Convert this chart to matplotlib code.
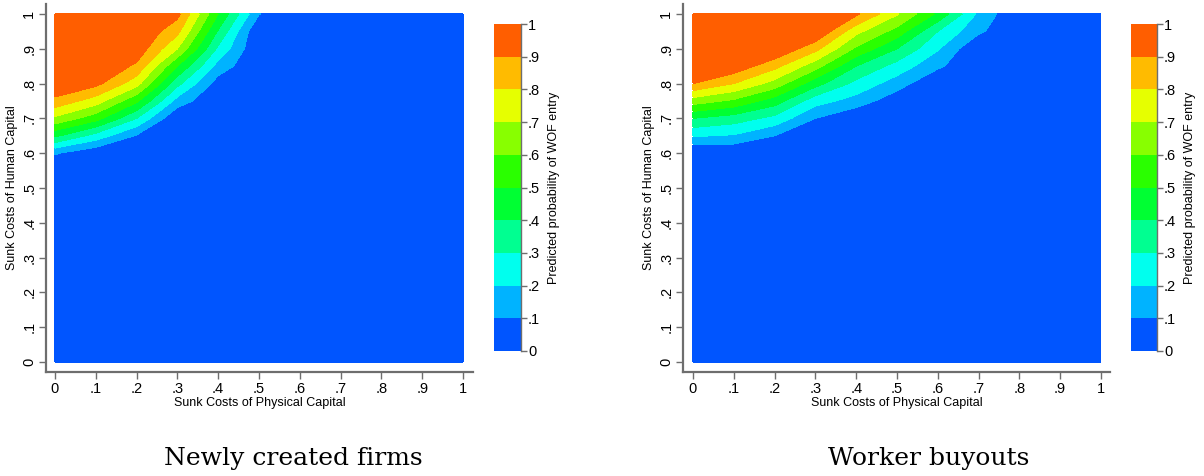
import numpy as np
import matplotlib
matplotlib.use("Agg")
import matplotlib.pyplot as plt

plt.rcParams["font.family"] = ["Liberation Sans", "DejaVu Sans"]

# grid of the two predicted-probability surfaces
x_vals = [0, 0.1, 0.2, 0.3, 0.4, 0.5, 0.6, 0.7, 0.8, 0.9, 1.0]
y_vals = [0, 0.55, 0.6, 0.65, 0.7, 0.75, 0.8, 0.85, 0.9, 0.95, 1.0]

# Newly created firms, rows follow y_vals, columns follow x_vals
z_new = [
    [0, 0, 0, 0, 0, 0, 0, 0, 0, 0, 0],
    [0, 0, 0, 0, 0, 0, 0, 0, 0, 0, 0],
    [0.11, 0.02, 0, 0, 0, 0, 0, 0, 0, 0, 0],
    [0.42, 0.26, 0.09, 0, 0, 0, 0, 0, 0, 0, 0],
    [0.68, 0.54, 0.30, 0, 0, 0, 0, 0, 0, 0, 0],
    [0.87, 0.75, 0.52, 0.16, 0, 0, 0, 0, 0, 0, 0],
    [1.0, 0.93, 0.74, 0.33, 0.05, 0, 0, 0, 0, 0, 0],
    [1.0, 1.0, 0.88, 0.50, 0.16, 0, 0, 0, 0, 0, 0],
    [1.0, 1.0, 0.97, 0.70, 0.28, 0, 0, 0, 0, 0, 0],
    [1.0, 1.0, 1.0, 0.83, 0.39, 0, 0, 0, 0, 0, 0],
    [1.0, 1.0, 1.0, 0.93, 0.50, 0.105, 0, 0, 0, 0, 0],
]

# Worker buyouts
z_wbo = [
    [0, 0, 0, 0, 0, 0, 0, 0, 0, 0, 0],
    [0, 0, 0, 0, 0, 0, 0, 0, 0, 0, 0],
    [0, 0, 0, 0, 0, 0, 0, 0, 0, 0, 0],
    [0.21, 0.19, 0.10, 0, 0, 0, 0, 0, 0, 0, 0],
    [0.40, 0.35, 0.27, 0.10, 0, 0, 0, 0, 0, 0, 0],
    [0.65, 0.58, 0.45, 0.24, 0.16, 0.03, 0, 0, 0, 0, 0],
    [0.90, 0.80, 0.66, 0.44, 0.27, 0.15, 0, 0, 0, 0, 0],
    [1.0, 0.97, 0.83, 0.64, 0.40, 0.26, 0.12, 0, 0, 0, 0],
    [1.0, 1.0, 1.0, 0.83, 0.58, 0.40, 0.21, 0, 0, 0, 0],
    [1.0, 1.0, 1.0, 1.0, 0.73, 0.56, 0.30, 0.12, 0, 0, 0],
    [1.0, 1.0, 1.0, 1.0, 0.92, 0.71, 0.48, 0.18, 0, 0, 0],
]

levels = [0, 0.1, 0.2, 0.3, 0.4, 0.5, 0.6, 0.7, 0.8, 0.9, 1.0]
level_labels = ["0", ".1", ".2", ".3", ".4", ".5", ".6", ".7", ".8", ".9", "1"]
band_colors = ["#0055FF", "#00B3FF", "#00FFEE", "#00FF91", "#00FF33",
               "#2AFF00", "#88FF00", "#E6FF00", "#FFBB00", "#FF5E00"]

W, H = 1204, 476
fig = plt.figure(figsize=(W / 100, H / 100), dpi=100)
fig.patch.set_facecolor("white")


def px_axes(l, t, r, b):
    return fig.add_axes([l / W, 1 - b / H, (r - l) / W, (b - t) / H])


panels = [
    (z_new, (46, 4, 473, 372), (494, 24, 521, 351), (-0.022, 1.0245), "Newly created firms", 293),
    (z_wbo, (683, 4, 1110, 372), (1131, 24, 1157, 351), (-0.0245, 1.0221), "Worker buyouts", 929),
]

spine_col = "#6e6e6e"
for z, box, cbox, xlim, title, tx in panels:
    ax = px_axes(*box)
    cs = ax.contourf(x_vals, y_vals, np.array(z), levels=levels, colors=band_colors)
    ax.set_xlim(*xlim)
    ax.set_ylim(-0.0287, 1.0287)
    ax.set_xticks(levels)
    ax.set_xticklabels(level_labels)
    ax.set_yticks(levels)
    ax.set_yticklabels(level_labels)
    for s in ["top", "right"]:
        ax.spines[s].set_visible(False)
    for s in ["left", "bottom"]:
        ax.spines[s].set_color(spine_col)
        ax.spines[s].set_linewidth(1.6)
    ax.tick_params(axis="both", length=5, width=1.0, color=spine_col,
                   labelsize=10.5, pad=2)
    ax.tick_params(axis="y", labelrotation=90)
    for lab in ax.get_yticklabels():
        lab.set_va("center")
    ax.set_xlabel("Sunk Costs of Physical Capital", fontsize=9, labelpad=1)
    ax.set_ylabel("Sunk Costs of Human Capital", fontsize=9, labelpad=3)

    cax = px_axes(*cbox)
    cb = fig.colorbar(cs, cax=cax)
    cb.outline.set_visible(False)
    cax.spines["right"].set_visible(True)
    cax.spines["right"].set_color(spine_col)
    cax.spines["right"].set_linewidth(1.0)
    cb.set_ticks(levels)
    cb.set_ticklabels(level_labels)
    cax.tick_params(length=4, width=1.0, color=spine_col, labelsize=10.5, pad=1)
    cb.set_label("Predicted probability of WOF entry", fontsize=9, labelpad=6)

    fig.text(tx / W, 1 - 458 / H, title, family="DejaVu Serif", fontsize=18,
             ha="center", va="center")

fig.savefig("out.png", dpi=100, facecolor="white")
